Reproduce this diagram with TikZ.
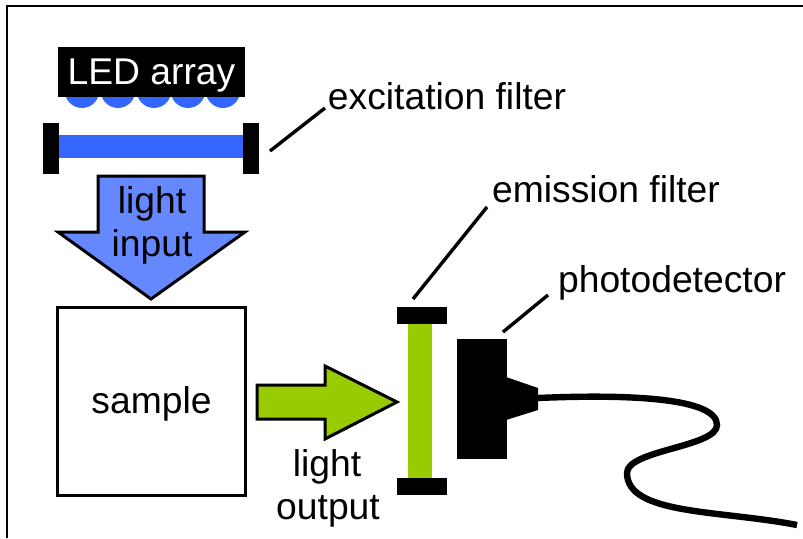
\documentclass[tikz,border=0pt]{standalone}
\usepackage{fontspec}
\setmainfont{Liberation Sans}
\usetikzlibrary{arrows}
\definecolor{led_blue}{HTML}{3366FF}
\definecolor{input_blue}{HTML}{6688FF}
\definecolor{filter_green}{HTML}{99CC00}
\begin{document}
\begin{tikzpicture}[x=0.25mm,y=-0.25mm,
	text_node/.style={inner sep=0pt,font=\fontsize{26.5}{28}\selectfont},
	bar_node/.style={rectangle,fill=black,inner sep=0pt},
	leader_line/.style={line width=0.85mm}]

		\useasboundingbox (0,0) rectangle (803,538);

		% frame, only top and left are visible
		\draw[line width=0.65mm] (7,538) -- (7,6) -- (803,6);

		% LED array
		\foreach \x in {82,118,154,188,223}
			\fill[led_blue] (\x,90) ellipse (17.5 and 18);
		\node[bar_node,minimum width=46.75mm,minimum height=12.5mm] (led) at (151.5,72) {};
		\node[text_node,text=white] (led_label) at (151.5,76) {LED array};

		% excitation filter
		\fill[led_blue] (59,135) rectangle (243,158);
		\node[bar_node,minimum width=4mm,minimum height=12.75mm] (ex_left) at (51,148.5) {};
		\node[bar_node,minimum width=4mm,minimum height=12.75mm] (ex_right) at (251,148.5) {};
		\node[text_node] (ex_label) at (447,96) {excitation filter};
		\coordinate (ex_a) at (270,151);
		\coordinate (ex_b) at (325,108);
		\draw[leader_line] (ex_a) -- (ex_b);

		% light input
		\draw[line width=0.75mm,fill=input_blue,line join=miter] (98,176) -- (204,176) -- (204,232) -- (245,232) -- (151,299) -- (58,232) -- (98,232) -- cycle;
		\node[text_node] (in_a) at (152,204) {light};
		\node[text_node] (in_b) at (152,247) {input};

		% sample
		\node[draw,line width=0.75mm,minimum width=46.75mm,minimum height=47mm,inner sep=0pt] (sample) at (151.5,401) {};
		\node[text_node] (sample_label) at (151.5,404) {sample};

		% light output
		\draw[line width=0.75mm,fill=filter_green,line join=miter] (257,385) -- (325,385) -- (325,366) -- (397,402) -- (325,439) -- (325,419) -- (257,419) -- cycle;
		\node[text_node] (out_a) at (327,467) {light};
		\node[text_node] (out_b) at (328,511) {output};

		% emission filter
		\fill[filter_green] (408,324) rectangle (432,478);
		\node[bar_node,minimum width=12.5mm,minimum height=4.25mm] (em_top) at (422,315.5) {};
		\node[bar_node,minimum width=12.5mm,minimum height=4.25mm] (em_bottom) at (422,486) {};
		\node[text_node] (em_label) at (606,189) {emission filter};
		\coordinate (em_a) at (413,299);
		\coordinate (em_b) at (487,207);
		\draw[leader_line] (em_a) -- (em_b);

		% photodetector
		\node[bar_node,minimum width=12.5mm,minimum height=30mm] (det) at (482,399) {};
		\fill (506,377) -- (538,388) -- (538,410) -- (506,420) -- cycle;
		\node[text_node] (det_label) at (672,283) {photodetector};
		\coordinate (det_a) at (503,332);
		\coordinate (det_b) at (548,295);
		\draw[leader_line] (det_a) -- (det_b);

		% cable
		\coordinate (cable) at (538,398);
		\draw[line width=1.6mm] (cable) .. controls (630,394) and (717,398) .. (717,425) .. controls (717,447) and (627,450) .. (627,473) .. controls (627,515) and (720,510) .. (797,525);
		\end{tikzpicture}
\end{document}
